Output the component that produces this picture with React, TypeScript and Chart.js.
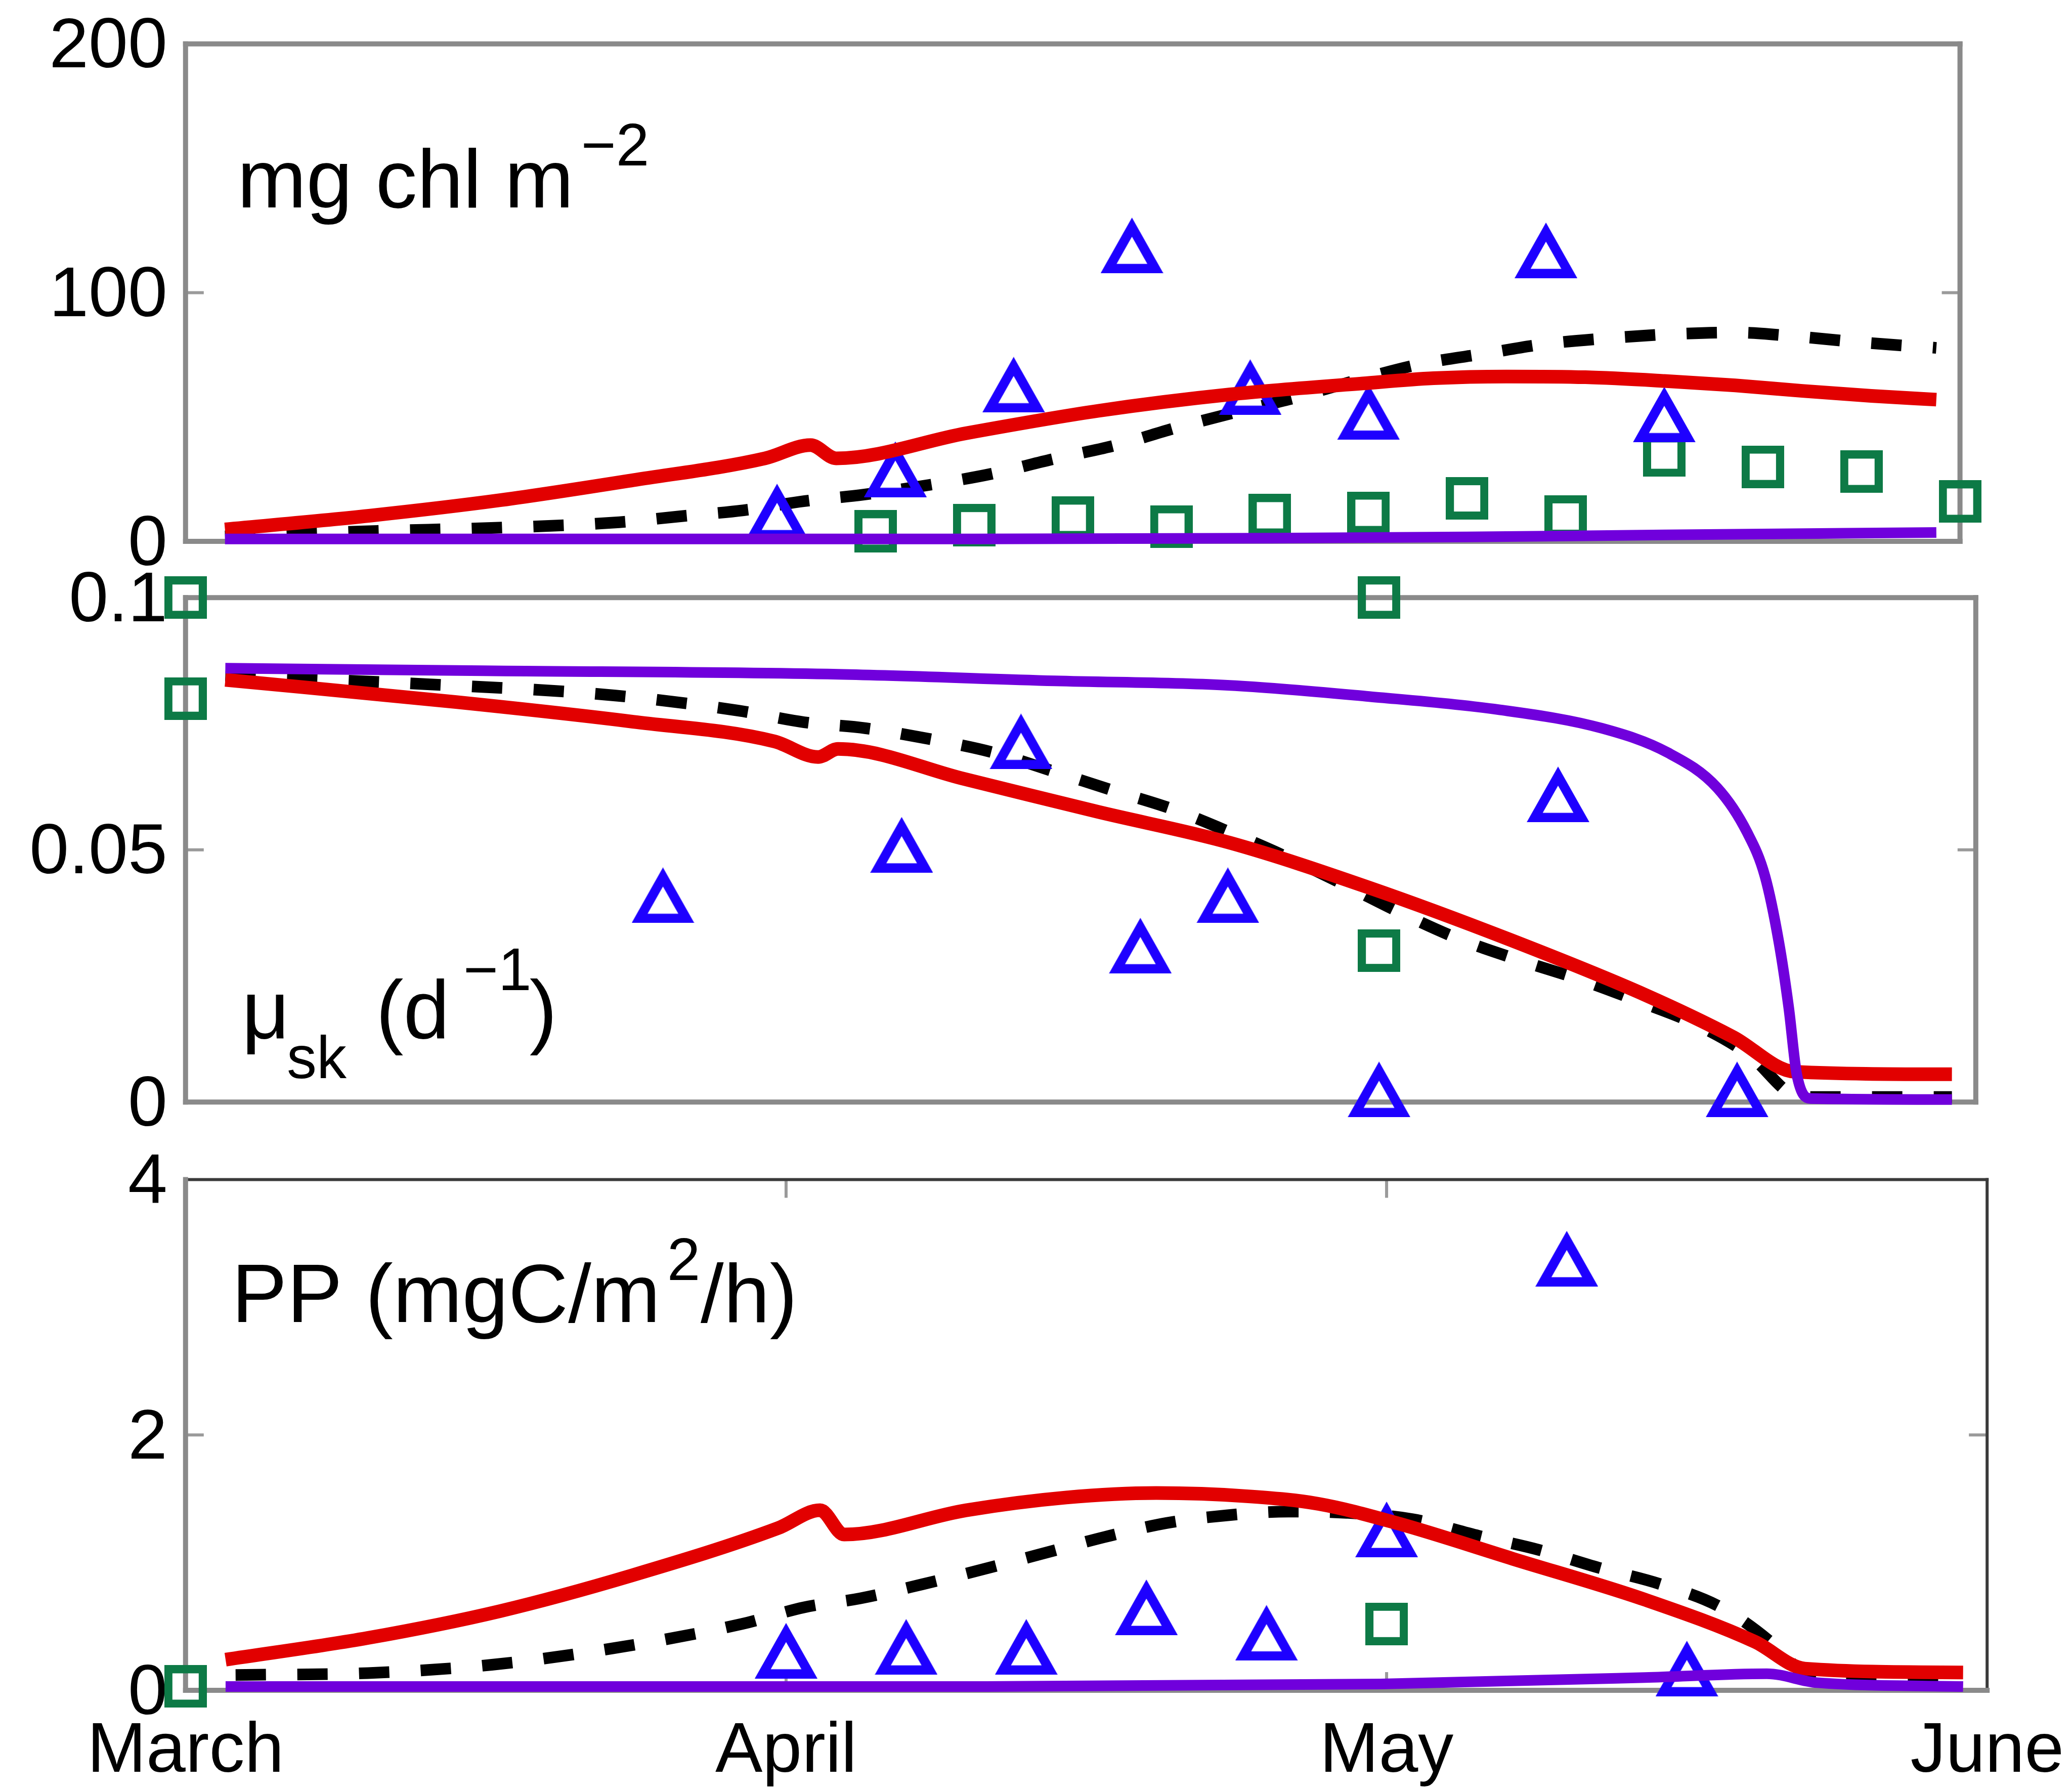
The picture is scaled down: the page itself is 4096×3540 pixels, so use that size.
import React, { useEffect, useRef } from 'react';
import { Chart, registerables } from 'chart.js';

Chart.register(...registerables);

// ---------------- shared axis data ----------------
const MONTH_TICKS = [0, 30, 60, 90];
const MONTH_LABELS = ['March', 'April', 'May', 'June'];

// ---------------- panel 1: chlorophyll (mg chl m^-2) ----------------
const CHL_TICKS = [0, 100, 200];
const CHL_TICK_LABELS = ['0', '100', '200'];
const chlTriDays = [30, 36, 42, 48, 54, 60, 69, 75];
const chlTriVals = [12, 29, 63, 119, 62, 52, 117, 51];
const chlSqDays = [35, 40, 45, 50, 55, 60, 65, 70, 75, 80, 85, 90];
const chlSqVals = [4, 6.5, 9.5, 6, 10.5, 11.5, 17.3, 10, 34.5, 30, 28, 16];
const chlRedDays = [2, 9.3, 16, 22.7, 29.4, 31.7, 33, 39.6, 46.3, 53, 59.7, 63.3, 67, 71, 75, 78.6, 82, 85.5, 88.8];
const chlRedVals = [4.8, 10.3, 16.6, 24.6, 33.4, 38.7, 33.4, 43.5, 52.5, 59.1, 63.5, 65.6, 66.3, 66, 64.5, 62.7, 60.5, 58.5, 57];
const chlBlackDays = [2, 9.7, 15.5, 22, 25.1, 28.3, 31.4, 34.4, 37.8, 40.9, 44, 47.2, 50.3, 53.3, 56.3, 59.5, 62.7, 65.9, 68.9, 72, 75.3, 78.6, 81.7, 85, 88.8];
const chlBlackVals = [2, 4.2, 5.4, 7.7, 10.1, 12.5, 16.2, 18.8, 22.8, 27.2, 33.1, 38.7, 45.8, 52, 57.8, 65, 71.4, 75.5, 79.3, 81.6, 83.3, 84, 82.4, 80, 77.8];
const chlPurpleDays = [2, 40, 55, 65, 75, 88.8];
const chlPurpleVals = [1, 1, 1.3, 1.8, 2.6, 3.6];

// ---------------- panel 2: growth rate mu_sk (d^-1) ----------------
const MU_TICKS = [0, 0.05, 0.1];
const MU_TICK_LABELS = ['0', '0.05', '0.1'];
const muTriDays = [24, 36, 42, 48, 52.4, 60, 69, 78];
const muTriVals = [0.041, 0.051, 0.0715, 0.031, 0.041, 0.0025, 0.061, 0.0025];
const muSqDays = [0, 0, 60, 60];
const muSqVals = [0.1, 0.08, 0.1, 0.03];
const muRedDays = [2, 13.6, 22.5, 29.6, 31.8, 32.8, 39.2, 45.9, 52.5, 59.5, 66.5, 73.4, 77.8, 80.9, 88.8];
const muRedVals = [0.0837, 0.0793, 0.0754, 0.0715, 0.0684, 0.07, 0.064, 0.0575, 0.0514, 0.0425, 0.0323, 0.0212, 0.0129, 0.006, 0.0055];
const muBlackDays = [2, 12.3, 21.6, 27.8, 31.1, 34.2, 37.5, 40.6, 43.6, 46.6, 49.6, 52.5, 55.3, 58.3, 61.1, 64.1, 67, 70.1, 73.1, 76.1, 78.7, 80.7, 81.5, 88.8];
const muBlackVals = [0.0845, 0.0828, 0.0806, 0.0776, 0.0753, 0.0741, 0.0719, 0.0693, 0.0656, 0.0618, 0.0581, 0.0535, 0.0487, 0.043, 0.0375, 0.0322, 0.0282, 0.0243, 0.0199, 0.0151, 0.009, 0.0016, 0.001, 0.001];
const muPurpleDays = [2, 15, 32.8, 43.7, 52.5, 59.5, 66, 71.2, 74.5, 77, 78.5, 79.4, 80.1, 80.6, 81, 81.7, 88.8];
const muPurpleVals = [0.086, 0.0855, 0.0848, 0.0835, 0.0826, 0.0804, 0.0778, 0.0741, 0.0693, 0.0623, 0.0535, 0.0448, 0.0317, 0.0186, 0.0055, 0.0007, 0.0005];

// ---------------- panel 3: primary production PP (mgC/m2/h) ----------------
const PP_TICKS = [0, 2, 4];
const PP_TICK_LABELS = ['0', '2', '4'];
const ppTriDays = [30, 36, 42, 48, 54, 60, 69, 75];
const ppTriVals = [0.31, 0.34, 0.34, 0.65, 0.45, 1.26, 3.38, 0.17];
const ppSqDays = [0, 60];
const ppSqVals = [0.03, 0.52];
const ppRedDays = [2, 9.1, 15.7, 22.3, 29.6, 31.7, 32.9, 39, 44, 48.5, 53, 56.6, 60.5, 66.3, 72.9, 78.4, 80.9, 88.8];
const ppRedVals = [0.24, 0.41, 0.62, 0.9, 1.27, 1.41, 1.22, 1.41, 1.51, 1.545, 1.52, 1.46, 1.31, 1.03, 0.71, 0.38, 0.17, 0.14];
const ppBlackDays = [2.5, 9.1, 15.3, 21.4, 27.8, 30.9, 33.7, 36.8, 39.9, 42.8, 45.9, 49, 52, 55.1, 58, 61.3, 64.6, 67.6, 70.6, 73.7, 76.7, 79.1, 80.9, 81.5, 88.8];
const ppBlackVals = [0.12, 0.135, 0.2, 0.33, 0.52, 0.65, 0.72, 0.83, 0.95, 1.07, 1.2, 1.31, 1.37, 1.4, 1.39, 1.34, 1.21, 1.1, 0.96, 0.83, 0.65, 0.39, 0.12, 0.07, 0.07];
const ppPurpleDays = [2, 40, 59.7, 72.9, 79, 81.5, 88.8];
const ppPurpleVals = [0.03, 0.03, 0.05, 0.1, 0.13, 0.06, 0.03];

// ---------------- styles ----------------
const FONT = "'Liberation Sans', Arial, Helvetica, sans-serif";
const RED = '#e20000';
const PURPLE = '#7000dc';
const BLACK = '#000000';
const BLUE = '#1e00ff';
const GREEN = '#0d7a46';
const FRAME_GRAY = '#8a8a8a';
const FRAME_DARK = '#3a3a3a';
const TICK_GRAY = '#9a9a9a';
const TICK_FONT = 140;
const LABEL_FONT = 164;
const SUP_FONT = 118;
const Y_AXIS_W = 366.8;

type Piece = { text: string; dx: number; dy: number; size: number };

type PanelSpec = {
  canvasTop: number;
  canvasH: number;
  pad: { top: number; bottom: number; right: number };
  yMin: number;
  yMax: number;
  yTicks: number[];
  yTickLabels: string[];
  showX: boolean;
  xAxisH: number;
  edges: { top: [string, number]; right: [string, number]; bottom: [string, number]; left: [string, number] };
  pieces: Piece[];
  tri: [number[], number[]];
  sq: [number[], number[]];
  red: [number[], number[]];
  black: [number[], number[]];
  purple: [number[], number[]];
};

const PANELS: PanelSpec[] = [
  {
    canvasTop: 0,
    canvasH: 1160,
    pad: { top: 86.8, bottom: 89.9, right: 221.4 },
    yMin: 0, yMax: 200, yTicks: CHL_TICKS, yTickLabels: CHL_TICK_LABELS,
    showX: false, xAxisH: 0,
    edges: { top: [FRAME_GRAY, 10], right: [FRAME_GRAY, 10], bottom: [FRAME_GRAY, 10], left: [FRAME_GRAY, 10] },
    pieces: [
      { text: 'mg chl m', dx: 102.2, dy: 322.7, size: LABEL_FONT },
      { text: '\u22122', dx: 782, dy: 239.8, size: SUP_FONT },
    ],
    tri: [chlTriDays, chlTriVals], sq: [chlSqDays, chlSqVals],
    red: [chlRedDays, chlRedVals], black: [chlBlackDays, chlBlackVals], purple: [chlPurpleDays, chlPurpleVals],
  },
  {
    canvasTop: 1090,
    canvasH: 1180,
    pad: { top: 91.3, bottom: 91.8, right: 190.2 },
    yMin: 0, yMax: 0.1, yTicks: MU_TICKS, yTickLabels: MU_TICK_LABELS,
    showX: false, xAxisH: 0,
    edges: { top: [FRAME_GRAY, 10], right: [FRAME_GRAY, 10], bottom: [FRAME_GRAY, 10], left: [FRAME_GRAY, 10] },
    pieces: [
      { text: '\u03bc', dx: 111.2, dy: 870.7, size: LABEL_FONT },
      { text: 'sk', dx: 200.2, dy: 949.7, size: SUP_FONT },
      { text: '(d', dx: 376.2, dy: 870.7, size: LABEL_FONT },
      { text: '\u22121', dx: 549.2, dy: 775.7, size: SUP_FONT },
      { text: ')', dx: 680, dy: 870.7, size: LABEL_FONT },
    ],
    tri: [muTriDays, muTriVals], sq: [muSqDays, muSqVals],
    red: [muRedDays, muRedVals], black: [muBlackDays, muBlackVals], purple: [muPurpleDays, muPurpleVals],
  },
  {
    canvasTop: 2240,
    canvasH: 1300,
    pad: { top: 91.4, bottom: 0, right: 167.8 },
    yMin: 0, yMax: 4, yTicks: PP_TICKS, yTickLabels: PP_TICK_LABELS,
    showX: true, xAxisH: 199,
    edges: { top: [FRAME_DARK, 6], right: [FRAME_DARK, 6], bottom: [FRAME_GRAY, 10], left: [FRAME_GRAY, 10] },
    pieces: [
      { text: 'PP (mgC/m', dx: 91.2, dy: 281.6, size: LABEL_FONT },
      { text: '2', dx: 952, dy: 198.6, size: SUP_FONT },
      { text: '/h)', dx: 1018.2, dy: 281.6, size: LABEL_FONT },
    ],
    tri: [ppTriDays, ppTriVals], sq: [ppSqDays, ppSqVals],
    red: [ppRedDays, ppRedVals], black: [ppBlackDays, ppBlackVals], purple: [ppPurpleDays, ppPurpleVals],
  },
];

// ---------------- marker images ----------------
function makeTriangle(w: number, h: number, t: number, color: string) {
  const c = document.createElement('canvas');
  c.width = Math.round(w);
  c.height = Math.round(h);
  const ctx = c.getContext('2d')!;
  const pts = [[w / 2, 0], [w, h], [0, h]];
  const side = Math.hypot(w / 2, h);
  const r = (w * h) / (w + 2 * side);
  const cx = w / 2;
  const cy = h - r;
  const k = (r - t) / r;
  ctx.fillStyle = color;
  ctx.beginPath();
  pts.forEach((p, i) => (i ? ctx.lineTo(p[0], p[1]) : ctx.moveTo(p[0], p[1])));
  ctx.closePath();
  ctx.fill();
  ctx.globalCompositeOperation = 'destination-out';
  ctx.beginPath();
  pts.forEach((p, i) => {
    const x = cx + (p[0] - cx) * k;
    const y = cy + (p[1] - cy) * k;
    if (i) ctx.lineTo(x, y);
    else ctx.moveTo(x, y);
  });
  ctx.closePath();
  ctx.fill();
  return c;
}

function makeSquare(s: number, t: number, color: string) {
  const c = document.createElement('canvas');
  c.width = Math.round(s);
  c.height = Math.round(s);
  const ctx = c.getContext('2d')!;
  ctx.fillStyle = color;
  ctx.fillRect(0, 0, s, s);
  ctx.clearRect(t, t, s - 2 * t, s - 2 * t);
  return c;
}

function xy(xs: number[], ys: number[]) {
  return xs.map((x, i) => ({ x, y: ys[i] }));
}

function framePlugin(spec: PanelSpec) {
  return {
    id: 'frameBox',
    beforeDatasetsDraw(chart: any) {
      const { ctx, chartArea: a } = chart;
      const ys = chart.scales.y;
      const xs = chart.scales.x;
      const L = 36;
      ctx.save();
      ctx.lineCap = 'butt';
      ctx.strokeStyle = TICK_GRAY;
      ctx.lineWidth = 6;
      spec.yTicks.slice(1, -1).forEach((v) => {
        const py = ys.getPixelForValue(v);
        ctx.beginPath();
        ctx.moveTo(a.left, py);
        ctx.lineTo(a.left + L, py);
        ctx.moveTo(a.right, py);
        ctx.lineTo(a.right - L, py);
        ctx.stroke();
      });
      if (spec.showX) {
        MONTH_TICKS.slice(1, -1).forEach((v) => {
          const px = xs.getPixelForValue(v);
          ctx.beginPath();
          ctx.moveTo(px, a.top);
          ctx.lineTo(px, a.top + L);
          ctx.moveTo(px, a.bottom);
          ctx.lineTo(px, a.bottom - L);
          ctx.stroke();
        });
      }
      ctx.lineCap = 'square';
      const edge = (x1: number, y1: number, x2: number, y2: number, st: [string, number]) => {
        ctx.strokeStyle = st[0];
        ctx.lineWidth = st[1];
        ctx.beginPath();
        ctx.moveTo(x1, y1);
        ctx.lineTo(x2, y2);
        ctx.stroke();
      };
      edge(a.left, a.top, a.right, a.top, spec.edges.top);
      edge(a.right, a.top, a.right, a.bottom, spec.edges.right);
      edge(a.left, a.bottom, a.right, a.bottom, spec.edges.bottom);
      edge(a.left, a.top, a.left, a.bottom, spec.edges.left);
      ctx.restore();
    },
  };
}

function labelPlugin(spec: PanelSpec) {
  return {
    id: 'panelLabel',
    afterDraw(chart: any) {
      const { ctx, chartArea: a } = chart;
      ctx.save();
      ctx.fillStyle = '#000';
      ctx.textBaseline = 'alphabetic';
      ctx.textAlign = 'left';
      spec.pieces.forEach((p) => {
        ctx.font = `${p.size}px ${FONT}`;
        ctx.fillText(p.text, a.left + p.dx, a.top + p.dy);
      });
      ctx.restore();
    },
  };
}

function buildChart(canvas: HTMLCanvasElement, spec: PanelSpec, tri: HTMLCanvasElement, sq: HTMLCanvasElement) {
  const lineDs = (d: [number[], number[]], color: string, width: number, dash: number[] = []) => ({
    data: xy(d[0], d[1]),
    borderColor: color,
    backgroundColor: color,
    borderWidth: width,
    borderDash: dash,
    borderCapStyle: 'butt',
    borderJoinStyle: 'round',
    pointRadius: 0,
    pointHoverRadius: 0,
    pointHitRadius: 0,
    cubicInterpolationMode: 'monotone',
    fill: false,
    clip: false,
  });
  const markDs = (d: [number[], number[]], img: HTMLCanvasElement) => ({
    data: xy(d[0], d[1]),
    showLine: false,
    pointStyle: img,
    pointRadius: 40,
    pointHoverRadius: 40,
    pointBorderWidth: 0,
    borderWidth: 0,
    clip: false,
  });

  const yScale: any = {
    type: 'linear',
    min: spec.yMin,
    max: spec.yMax,
    grid: { display: false, drawTicks: false },
    border: { display: false },
    ticks: {
      font: { family: FONT, size: TICK_FONT },
      color: '#000',
      padding: 36,
      labelOffset: 8,
      callback: (_v: number, i: number) => spec.yTickLabels[i],
    },
    afterBuildTicks: (scale: any) => {
      scale.ticks = spec.yTicks.map((v) => ({ value: v }));
    },
    afterFit: (scale: any) => {
      scale.width = Y_AXIS_W;
      scale.paddingTop = 0;
      scale.paddingBottom = 0;
    },
  };

  const xScale: any = spec.showX
    ? {
        type: 'linear',
        min: 0,
        max: 90,
        position: 'bottom',
        grid: { display: false, drawTicks: false },
        border: { display: false },
        ticks: {
          font: { family: FONT, size: TICK_FONT },
          color: '#000',
          padding: 38,
          maxRotation: 0,
          minRotation: 0,
          autoSkip: false,
          callback: (_v: number, i: number) => MONTH_LABELS[i],
        },
        afterBuildTicks: (scale: any) => {
          scale.ticks = MONTH_TICKS.map((v) => ({ value: v }));
        },
        afterFit: (scale: any) => {
          scale.height = spec.xAxisH;
          scale.paddingLeft = 0;
          scale.paddingRight = 0;
        },
      }
    : { type: 'linear', min: 0, max: 90, display: false };

  return new Chart(canvas, {
    type: 'line',
    data: {
      datasets: [
        lineDs(spec.purple, PURPLE, 21),
        lineDs(spec.red, RED, 27),
        markDs(spec.tri, tri),
        markDs(spec.sq, sq),
        lineDs(spec.black, BLACK, 23, [60, 62]),
      ] as any,
    },
    options: {
      animation: false,
      responsive: false,
      devicePixelRatio: 1,
      events: [],
      layout: { padding: { top: spec.pad.top, bottom: spec.pad.bottom, left: 0, right: spec.pad.right } },
      plugins: { legend: { display: false }, tooltip: { enabled: false } },
      scales: { x: xScale, y: yScale },
    } as any,
    plugins: [framePlugin(spec), labelPlugin(spec)] as any,
  });
}

export default function App() {
  const refs = [useRef<HTMLCanvasElement>(null), useRef<HTMLCanvasElement>(null), useRef<HTMLCanvasElement>(null)];

  useEffect(() => {
    const tri = makeTriangle(124, 110, 18.5, BLUE);
    const sq = makeSquare(84, 16, GREEN);
    const charts = PANELS.map((p, i) => buildChart(refs[i].current!, p, tri, sq));
    return () => charts.forEach((c) => c.destroy());
  }, []);

  return (
    <div style={{ position: 'absolute', left: 0, top: 0, width: 4096, height: 3540, background: '#fff', overflow: 'hidden' }}>
      {PANELS.map((p, i) => (
        <canvas
          key={i}
          ref={refs[i]}
          width={4096}
          height={p.canvasH}
          style={{ position: 'absolute', left: 0, top: p.canvasTop, width: 4096, height: p.canvasH }}
        />
      ))}
    </div>
  );
}
